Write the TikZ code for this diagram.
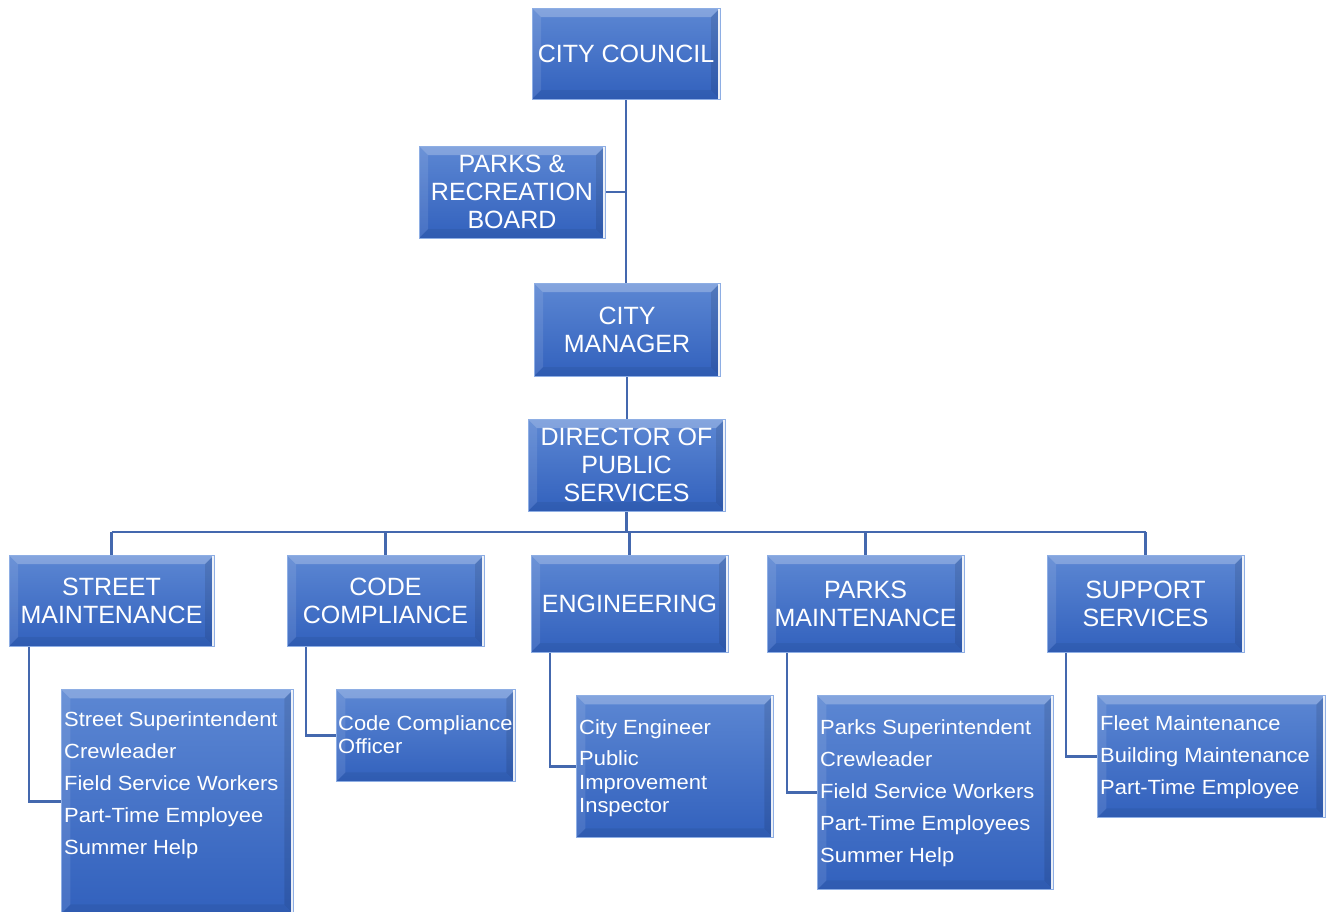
\documentclass[tikz,border=0pt]{standalone}
\usepackage{fontspec}
\setmainfont{Liberation Sans}
\newfontfamily\listfont[FakeStretch=1.07]{Liberation Sans}
\usetikzlibrary{calc,backgrounds}
\definecolor{boxtop}{HTML}{5C87D3}
\definecolor{boxbot}{HTML}{3261BD}
\definecolor{boxedge}{HTML}{8EAEE4}
\definecolor{linkc}{HTML}{4468AE}
\tikzset{
  bevel/.style={path picture={
    \fill[white,opacity=0.25] (path picture bounding box.north west) -- (path picture bounding box.north east)
      -- ([xshift=-9pt,yshift=-9pt]path picture bounding box.north east) -- ([xshift=9pt,yshift=-9pt]path picture bounding box.north west) -- cycle;
    \fill[white,opacity=0.10] (path picture bounding box.north west) -- ([xshift=9pt,yshift=-9pt]path picture bounding box.north west)
      -- ([xshift=9pt,yshift=9pt]path picture bounding box.south west) -- (path picture bounding box.south west) -- cycle;
    \fill[black,opacity=0.06] (path picture bounding box.south west) -- ([xshift=9pt,yshift=9pt]path picture bounding box.south west)
      -- ([xshift=-9pt,yshift=9pt]path picture bounding box.south east) -- (path picture bounding box.south east) -- cycle;
    \fill[black,opacity=0.10] (path picture bounding box.north east) -- ([xshift=-9pt,yshift=-9pt]path picture bounding box.north east)
      -- ([xshift=-9pt,yshift=9pt]path picture bounding box.south east) -- (path picture bounding box.south east) -- cycle;
    \draw[white,line width=1.8pt,opacity=0.9] ([xshift=-1.2pt]path picture bounding box.north east) -- ([xshift=-1.2pt]path picture bounding box.south east);
  }},
  orgbox/.style={rectangle, draw=boxedge, line width=0.8pt, top color=boxtop, bottom color=boxbot, bevel,
    text=white, inner sep=0pt, align=center, font=\fontsize{25}{28}\selectfont},
  listbox/.style={orgbox, anchor=north west},
  listline/.style={anchor=base west, inner sep=0pt, text=white, font=\listfont\fontsize{20.5}{23.5}\selectfont},
  link/.style={draw=linkc, line width=2.2pt},
}
\begin{document}
\begin{tikzpicture}[x=1pt,y=-1pt]
\useasboundingbox (0,0) rectangle (1328,911);

% top boxes
\node[orgbox, minimum width=188pt, minimum height=91pt] (cc) at (626,53.5) {CITY COUNCIL};
\node[orgbox, minimum width=186pt, minimum height=92pt] (prb) at (512,192) {PARKS \&\\RECREATION\\BOARD};
\node[orgbox, minimum width=186pt, minimum height=93pt] (cm) at (627,329.5) {CITY\\MANAGER};
\node[orgbox, minimum width=197pt, minimum height=92pt] (dir) at (626.5,465) {DIRECTOR OF\\PUBLIC\\SERVICES};

% department boxes
\node[orgbox, minimum width=205pt, minimum height=91pt] (sm) at (111.5,600.5) {STREET\\MAINTENANCE};
\node[orgbox, minimum width=197pt, minimum height=91pt] (cod) at (385.5,600.5) {CODE\\COMPLIANCE};
\node[orgbox, minimum width=197pt, minimum height=97pt] (eng) at (629.5,603.5) {ENGINEERING};
\node[orgbox, minimum width=197pt, minimum height=97pt] (pm) at (865.5,603.5) {PARKS\\MAINTENANCE};
\node[orgbox, minimum width=197pt, minimum height=97pt] (ss) at (1145.5,603.5) {SUPPORT\\SERVICES};

% list boxes
\node[listbox, minimum width=232pt, minimum height=224pt] (sl) at (61,689) {};
\node[listbox, minimum width=179pt, minimum height=92pt] (cl) at (336,689) {};
\node[listbox, minimum width=197pt, minimum height=142pt] (el) at (576,695) {};
\node[listbox, minimum width=236pt, minimum height=194pt] (pl) at (817,695) {};
\node[listbox, minimum width=228pt, minimum height=122pt] (sp) at (1097,695) {};

% list texts
\node[listline] (sl1) at (64,726) {Street Superintendent};
\node[listline] (sl2) at (64,758) {Crewleader};
\node[listline] (sl3) at (64,790) {Field Service Workers};
\node[listline] (sl4) at (64,822) {Part-Time Employee};
\node[listline] (sl5) at (64,854) {Summer Help};

\node[listline] (cl1) at (338,730) {Code Compliance};
\node[listline] (cl2) at (338,753) {Officer};

\node[listline] (el1) at (579,734) {City Engineer};
\node[listline] (el2) at (579,765) {Public};
\node[listline] (el3) at (579,789) {Improvement};
\node[listline] (el4) at (579,812) {Inspector};

\node[listline] (pl1) at (820,734) {Parks Superintendent};
\node[listline] (pl2) at (820,766) {Crewleader};
\node[listline] (pl3) at (820,798) {Field Service Workers};
\node[listline] (pl4) at (820,830) {Part-Time Employees};
\node[listline] (pl5) at (820,862) {Summer Help};

\node[listline] (sp1) at (1100,730) {Fleet Maintenance};
\node[listline] (sp2) at (1100,762) {Building Maintenance};
\node[listline] (sp3) at (1100,794) {Part-Time Employee};

% connectors
\begin{scope}[on background layer]
\coordinate (bus) at (626.5,532);
\draw[link] (cc.south) -- (cc.south |- cm.north);
\draw[link] (prb.east) -- (prb.east -| cc.south);
\draw[link] (cm.south) -- (cm.south |- dir.north);
\draw[link] (dir.south) -- (bus);
\draw[link] (sm.north |- bus) -- (ss.north |- bus);
\draw[link] (sm.north |- bus) -- (sm.north);
\draw[link] (cod.north |- bus) -- (cod.north);
\draw[link] (eng.north |- bus) -- (eng.north);
\draw[link] (pm.north |- bus) -- (pm.north);
\draw[link] (ss.north |- bus) -- (ss.north);
\draw[link] ([xshift=20pt]sm.south west) |- (sl.west);
\draw[link] ([xshift=19pt]cod.south west) |- (cl.west);
\draw[link] ([xshift=19pt]eng.south west) |- (el.west);
\draw[link] ([xshift=20pt]pm.south west) |- (pl.west);
\draw[link] ([xshift=19pt]ss.south west) |- (sp.west);
\end{scope}
\end{tikzpicture}
\end{document}
